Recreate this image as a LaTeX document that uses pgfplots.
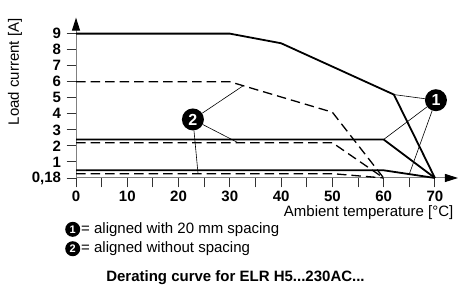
\documentclass[border=0pt]{standalone}
\usepackage{fontspec}
\setmainfont{Liberation Sans}
\usepackage{pgfplots}
\pgfplotsset{compat=1.18}
\usetikzlibrary{arrows.meta}
\begin{document}
\begin{tikzpicture}
\begin{axis}[
  scale only axis, width=382pt, height=160.4pt,
  xmin=0, xmax=74.5, ymin=0, ymax=10,
  clip=false,
  axis lines=left,
  axis line style={black!50, line width=1pt, -{Triangle[length=13pt,width=8pt,color=black]}},
  tick align=outside,
  major tick length=9.5pt,
  tick style={black!80, line width=0.9pt},
  xtick={0,5,...,70},
  xticklabels={0,,10,,20,,30,,40,,50,,60,,70},
  ytick={0,1,...,9},
  yticklabels={{0,18},1,2,3,4,5,6,7,8,9},
  tick label style={font=\fontsize{15}{15}\selectfont\bfseries},
  yticklabel style={xshift=-2pt},
  xlabel={Ambient temperature [°C]},
  ylabel={Load current [A]},
  every axis x label/.style={at={(axis description cs:0.997,-0.215)},anchor=east,font=\fontsize{15}{15}\selectfont},
  every axis y label/.style={at={(axis description cs:-0.16,0.661)},rotate=90,anchor=center,font=\fontsize{15}{15}\selectfont},
]
% 1 = aligned with 20 mm spacing (solid)
\addplot[black, line width=1.8pt] coordinates {(0,9) (30,9) (40,8.4) (62,5.2) (70,0)};
\addplot[black, line width=1.8pt] coordinates {(0,2.4) (60,2.4) (70,0)};
\addplot[black, line width=1.8pt] coordinates {(0,0.48) (60,0.48) (70,0)};
% 2 = aligned without spacing (dashed)
\addplot[black, line width=1.3pt, dash pattern=on 9.5pt off 5pt] coordinates {(0,6) (30,6) (50,4.1) (60,0)};
\addplot[black, line width=1.3pt, dash pattern=on 9.5pt off 5pt] coordinates {(0,2.2) (50,2.2) (60,0)};
\addplot[black, line width=1.3pt, dash pattern=on 9.5pt off 5pt] coordinates {(0,0.27) (50,0.27) (60,0)};

% callout markers
\node[circle,fill=black,inner sep=0pt,minimum size=22pt,text=white,font=\fontsize{16}{16}\selectfont\bfseries] (m1) at (axis cs:70.2,4.85) {1};
\draw[black, line width=0.6pt] (m1) -- (axis cs:62,5.2);
\draw[black, line width=0.6pt] (m1) -- (axis cs:60,2.4);
\draw[black, line width=0.6pt] (m1) -- (axis cs:65,0.24);
\node[circle,fill=black,inner sep=0pt,minimum size=22pt,text=white,font=\fontsize{16}{16}\selectfont\bfseries] (m2) at (axis cs:22.8,3.65) {2};
\draw[black, line width=0.6pt] (m2) -- (axis cs:32.6,5.75);
\draw[black, line width=0.6pt] (m2) -- (axis cs:31.6,2.2);
\draw[black, line width=0.6pt] (m2) -- (axis cs:23.8,0.27);

% legend
\node[circle,fill=black,inner sep=0pt,minimum size=15pt,text=white,font=\fontsize{11}{11}\selectfont\bfseries] at (axis description cs:-0.0086,-0.320) {1};
\node[anchor=west,inner sep=0pt,font=\fontsize{15}{15}\selectfont] at (axis description cs:0.013,-0.320) {= aligned with 20 mm spacing};
\node[circle,fill=black,inner sep=0pt,minimum size=15pt,text=white,font=\fontsize{11}{11}\selectfont\bfseries] at (axis description cs:-0.0086,-0.441) {2};
\node[anchor=west,inner sep=0pt,font=\fontsize{15}{15}\selectfont] at (axis description cs:0.013,-0.441) {= aligned without spacing};
\node[font=\fontsize{15}{15}\selectfont\bfseries] at (axis description cs:0.4175,-0.619) {Derating curve for ELR H5...230AC...};

\coordinate (TL) at (axis description cs:-0.199,1.1097);
\coordinate (BR) at (axis description cs:1.0131,-0.6796);
\end{axis}
\pgfresetboundingbox
\path[use as bounding box] (TL) rectangle (BR);
\end{tikzpicture}
\end{document}
